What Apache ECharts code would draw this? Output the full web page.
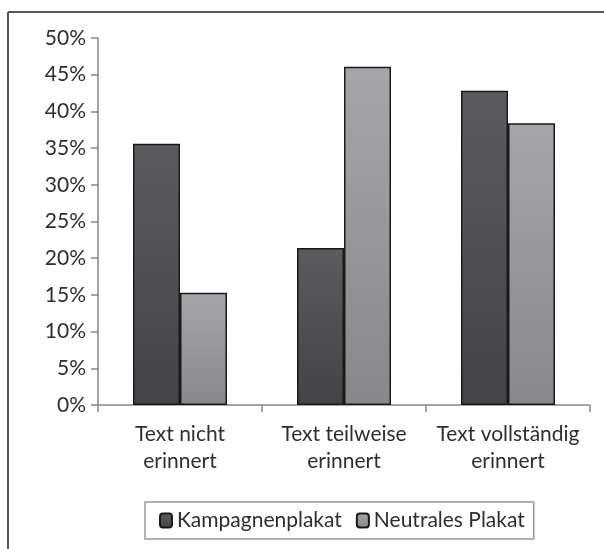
<!DOCTYPE html>
<html>
<head>
<meta charset="utf-8">
<script src="https://cdn.jsdelivr.net/npm/echarts@6/dist/echarts.min.js"></script>
<style>
  html, body { margin: 0; padding: 0; background: #fff; }
  #chart { width: 604px; height: 549px; }
</style>
</head>
<body>
<div id="chart"></div>
<script>
// Werte in Prozent
var categories = ['Text nicht\nerinnert', 'Text teilweise\nerinnert', 'Text vollständig\nerinnert'];
var kampagne = [35.6, 21.4, 42.8];
var neutral = [15.3, 46.1, 38.4];
var seriesNames = ['Kampagnenplakat', 'Neutrales Plakat'];

var FONT = 'Lato';

function grad(top, bottom) {
    return new echarts.graphic.LinearGradient(0, 0, 0, 1, [
        { offset: 0, color: top },
        { offset: 1, color: bottom }
    ]);
}

var chart = echarts.init(document.getElementById('chart'));
chart.setOption({
    backgroundColor: '#fff',
    animation: false,
    graphic: [
        { type: 'line', shape: { x1: 8, y1: 12, x2: 604, y2: 12 }, style: { stroke: '#555', lineWidth: 2 } },
        { type: 'line', shape: { x1: 8, y1: 12, x2: 8, y2: 549 }, style: { stroke: '#555', lineWidth: 2 } }
    ],
    grid: { left: 98, right: 14, top: 38, bottom: 144 },
    legend: {
        left: 145,
        top: 502,
        padding: [8, 9, 8, 14],
        borderColor: '#999',
        borderWidth: 1.5,
        itemWidth: 12,
        itemHeight: 14,
        itemGap: 14,
        textStyle: { fontFamily: FONT, fontSize: 21, color: '#2e2e2e' },
        data: seriesNames
    },
    xAxis: {
        type: 'category',
        data: categories,
        axisLine: { lineStyle: { color: '#888', width: 1.5 } },
        axisTick: { show: true, length: 7, lineStyle: { color: '#888', width: 1.5 } },
        axisLabel: { interval: 0, fontFamily: FONT, fontSize: 21, color: '#2e2e2e', lineHeight: 27, margin: 16 }
    },
    yAxis: {
        type: 'value',
        min: 0,
        max: 50,
        interval: 5,
        splitLine: { show: false },
        axisLine: { show: true, lineStyle: { color: '#888', width: 1.5 } },
        axisTick: { show: true, length: 7, lineStyle: { color: '#888', width: 1.5 } },
        axisLabel: { fontFamily: FONT, fontSize: 21, color: '#2e2e2e', margin: 12, formatter: '{value}%' }
    },
    series: [
        {
            name: seriesNames[0],
            type: 'bar',
            data: kampagne,
            barWidth: 47,
            barGap: '0%',
            itemStyle: { color: grad('#5c5c5e', '#444446'), borderColor: '#1a1a1a', borderWidth: 1.5 }
        },
        {
            name: seriesNames[1],
            type: 'bar',
            data: neutral,
            barWidth: 47,
            barGap: '0%',
            itemStyle: { color: grad('#a6a6a8', '#88888a'), borderColor: '#1a1a1a', borderWidth: 1.5 }
        }
    ]
});
</script>
</body>
</html>
